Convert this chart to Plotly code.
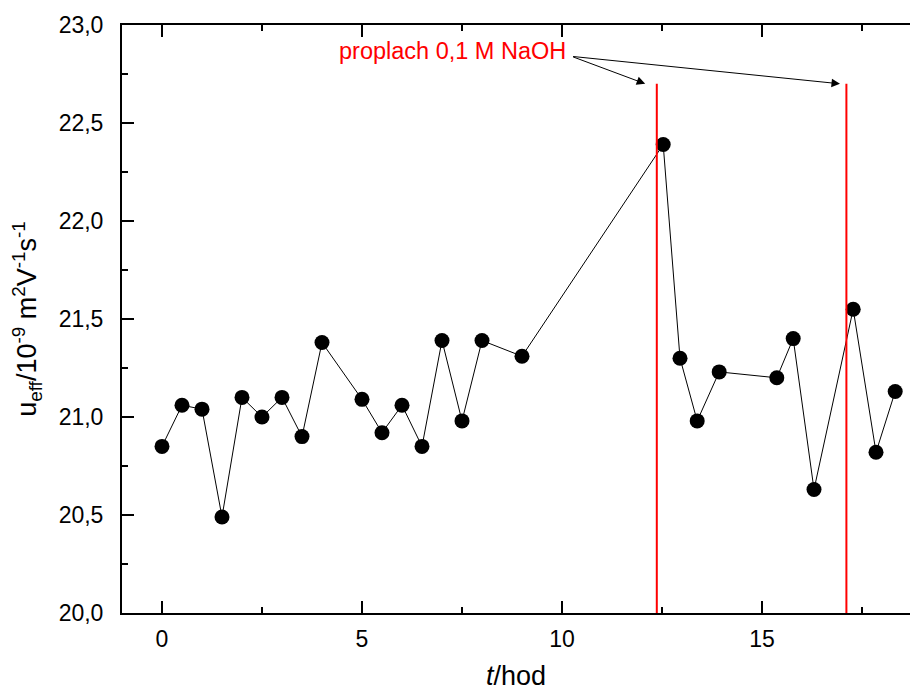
import plotly.graph_objects as go

# Data
t_hod = [0, 0.5, 1, 1.5, 2, 2.5, 3, 3.5, 4, 5, 5.5, 6, 6.5, 7, 7.5, 8, 9,
         12.53, 12.95, 13.38, 13.93, 15.37, 15.78, 16.3, 17.28, 17.85, 18.33]
u_eff = [20.85, 21.06, 21.04, 20.49, 21.10, 21.00, 21.10, 20.90, 21.38, 21.09,
         20.92, 21.06, 20.85, 21.39, 20.98, 21.39, 21.31, 22.39, 21.30, 20.98,
         21.23, 21.20, 21.40, 20.63, 21.55, 20.82, 21.13]

flush_times = [12.37, 17.11]
flush_top = 22.70
flush_label = "proplach 0,1 M NaOH"
label_pos = (7.25, 22.867)
arrow_tail = (10.24, 22.84)
arrow_heads = [(12.08, 22.70), (16.95, 22.70)]

x_range = [-1.0, 18.7]
y_range = [20.0, 23.0]

FONT = "Arial, Liberation Sans, sans-serif"

fig = go.Figure()
fig.add_trace(go.Scatter(
    x=t_hod, y=u_eff, mode="lines+markers",
    line=dict(color="black", width=1),
    marker=dict(color="black", size=15, symbol="circle"),
    showlegend=False, cliponaxis=False,
))

for tf in flush_times:
    fig.add_shape(type="line", xref="x", yref="y", x0=tf, x1=tf,
                  y0=y_range[0], y1=flush_top,
                  line=dict(color="#ff0000", width=2))

fig.add_annotation(x=label_pos[0], y=label_pos[1], xref="x", yref="y",
                   text=flush_label, showarrow=False,
                   font=dict(family=FONT, size=23.5, color="#ff0000"))
for hx, hy in arrow_heads:
    fig.add_annotation(x=hx, y=hy, xref="x", yref="y",
                       ax=arrow_tail[0], ay=arrow_tail[1], axref="x", ayref="y",
                       text="", showarrow=True, arrowhead=2, arrowsize=1.7,
                       arrowwidth=1, arrowcolor="black", standoff=0)

fig.update_layout(
    width=910, height=691,
    margin=dict(l=122, r=0, t=25, b=78),
    paper_bgcolor="white", plot_bgcolor="white",
    separators=", ",
    font=dict(family=FONT, size=23, color="black"),
    showlegend=False,
)

fig.update_xaxes(
    range=x_range, tickmode="linear", tick0=0, dtick=5,
    ticks="inside", ticklen=12, tickwidth=2, tickcolor="black",
    minor=dict(ticks="inside", ticklen=6, tickwidth=2, dtick=2.5, tick0=0, tickcolor="black"),
    showline=True, linewidth=2, linecolor="black", mirror="ticks",
    showgrid=False, zeroline=False,
    tickfont=dict(family=FONT, size=23), ticklabelstandoff=4,
    title=dict(text="<i>t</i>/hod", font=dict(family=FONT, size=27), standoff=18),
)
fig.update_yaxes(
    range=y_range, tickmode="linear", tick0=20, dtick=0.5, tickformat=".1f",
    ticks="inside", ticklen=12, tickwidth=2, tickcolor="black",
    minor=dict(ticks="inside", ticklen=6, tickwidth=2, dtick=0.25, tick0=20, tickcolor="black"),
    showline=True, linewidth=2, linecolor="black", mirror=False,
    showgrid=False, zeroline=False,
    tickfont=dict(family=FONT, size=23), ticklabelstandoff=12,
    title=dict(text="u<sub>eff</sub>/10<sup>-9</sup> m<sup>2</sup>V<sup>-1</sup>s<sup>-1</sup>",
               font=dict(family=FONT, size=27), standoff=14),
)

fig.write_html("out.html")
